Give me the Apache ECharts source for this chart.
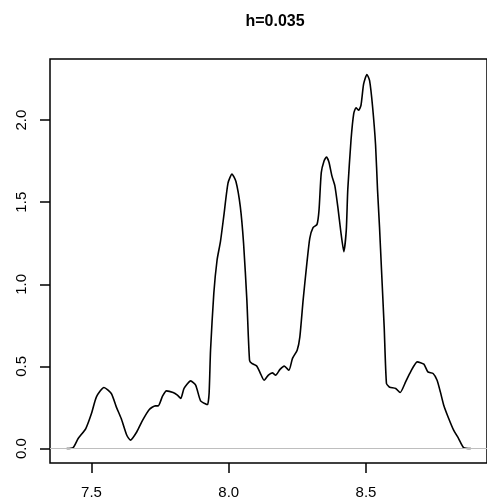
<!DOCTYPE html>
<html>
<head>
<meta charset="utf-8">
<script src="https://cdn.jsdelivr.net/npm/echarts@6/dist/echarts.min.js"></script>
<style>
  html, body { margin: 0; padding: 0; background: #fff; }
  #main { width: 487px; height: 503px; }
</style>
</head>
<body>
<div id="main"></div>
<script>
var titleText = 'h=0.035';

// density estimate
var densityX = [
    7.4096, 7.4335, 7.4516, 7.4794, 7.5000, 7.5181, 7.5455, 7.5723, 7.5904, 7.6084,
    7.6287, 7.6420, 7.6648, 7.6865, 7.7107, 7.7324, 7.7432, 7.7588, 7.7732, 7.7974,
    7.8130, 7.8253, 7.8372, 7.8614, 7.8795, 7.8975, 7.9178, 7.9232, 7.9286, 7.9337,
    7.9456, 7.9575, 7.9698, 7.9817, 7.9973, 8.0118, 8.0262, 8.0421, 8.0540, 8.0660,
    8.0757, 8.0840, 8.1021, 8.1144, 8.1288, 8.1444, 8.1588, 8.1708, 8.1867, 8.2022,
    8.2192, 8.2322, 8.2492, 8.2590, 8.2709, 8.2828, 8.2951, 8.3070, 8.3215, 8.3287,
    8.3370, 8.3468, 8.3558, 8.3648, 8.3757, 8.3865, 8.3974, 8.4082, 8.4191, 8.4281,
    8.4335, 8.4454, 8.4552, 8.4635, 8.4733, 8.4816, 8.4913, 8.5032, 8.5130, 8.5238,
    8.5347, 8.5419, 8.5491, 8.5564, 8.5661, 8.5744, 8.5842, 8.5900, 8.6081, 8.6240,
    8.6442, 8.6623, 8.6865, 8.7107, 8.7252, 8.7443, 8.7588, 8.7707, 8.7830, 8.8011,
    8.8191, 8.8372, 8.8553, 8.8817
];
var densityY = [
    0.000, 0.006, 0.061, 0.122, 0.213, 0.315, 0.372, 0.335, 0.254, 0.183,
    0.081, 0.051, 0.101, 0.173, 0.238, 0.260, 0.260, 0.319, 0.351, 0.341,
    0.325, 0.305, 0.366, 0.412, 0.386, 0.290, 0.270, 0.268, 0.340, 0.599,
    0.945, 1.148, 1.260, 1.412, 1.616, 1.671, 1.626, 1.473, 1.250, 0.904,
    0.538, 0.518, 0.502, 0.461, 0.416, 0.447, 0.461, 0.447, 0.482, 0.502,
    0.477, 0.549, 0.599, 0.680, 0.904, 1.100, 1.280, 1.345, 1.365, 1.450,
    1.680, 1.750, 1.775, 1.745, 1.660, 1.600, 1.470, 1.320, 1.199, 1.330,
    1.575, 1.880, 2.040, 2.075, 2.060, 2.090, 2.220, 2.278, 2.240, 2.083,
    1.850, 1.575, 1.350, 1.087, 0.741, 0.396, 0.376, 0.372, 0.366, 0.341,
    0.406, 0.467, 0.528, 0.514, 0.467, 0.457, 0.416, 0.345, 0.264, 0.183,
    0.112, 0.061, 0.006, 0.000
];

var xTicks = [7.5, 8.0, 8.5];
var yTicks = [0, 0.5, 1.0, 1.5, 2.0];

var curve = densityX.map(function (x, i) { return [x, densityY[i]]; });

var dom = document.getElementById('main');
var myChart = echarts.init(dom, null, { renderer: 'canvas' });
var font = '"Liberation Sans", Arial, Helvetica, sans-serif';

var option = {
    animation: false,
    backgroundColor: '#ffffff',
    title: {
        text: titleText,
        left: 270,
        top: 9,
        textAlign: 'center',
        textStyle: { fontFamily: font, fontSize: 16, fontWeight: 'bold', color: '#000' }
    },
    grid: {
        left: 50,
        top: 59,
        width: 440,
        height: 404,
        show: true,
        borderColor: '#000',
        borderWidth: 1.5,
        backgroundColor: 'transparent'
    },
    xAxis: {
        type: 'value',
        min: 7.349,
        max: 8.9406,
        splitLine: { show: false },
        axisLine: { show: false, onZero: false },
        axisTick: {
            show: true,
            inside: false,
            length: 10,
            customValues: xTicks,
            lineStyle: { color: '#000', width: 1.5 }
        },
        axisLabel: {
            customValues: xTicks,
            margin: 22,
            fontFamily: font,
            fontSize: 15,
            color: '#000',
            formatter: function (v) { return v.toFixed(1); }
        }
    },
    yAxis: {
        type: 'value',
        min: -0.088,
        max: 2.372,
        splitLine: { show: false },
        axisLine: { show: false, onZero: false },
        axisTick: {
            show: true,
            inside: false,
            length: 10,
            customValues: yTicks,
            lineStyle: { color: '#000', width: 1.5 }
        },
        axisLabel: {
            customValues: yTicks,
            rotate: 90,
            margin: 21,
            fontFamily: font,
            fontSize: 15,
            color: '#000',
            formatter: function (v) { return v.toFixed(1); }
        }
    },
    series: [
        {
            type: 'line',
            data: curve,
            showSymbol: false,
            smooth: 0.2,
            lineStyle: { color: '#000', width: 1.6 },
            z: 2
        },
        {
            type: 'line',
            data: [],
            z: 3,
            markLine: {
                silent: true,
                symbol: 'none',
                label: { show: false },
                lineStyle: { color: '#bebebe', width: 1, type: 'solid' },
                data: [{ yAxis: 0 }]
            }
        }
    ]
};

myChart.setOption(option, true);
</script>
</body>
</html>
